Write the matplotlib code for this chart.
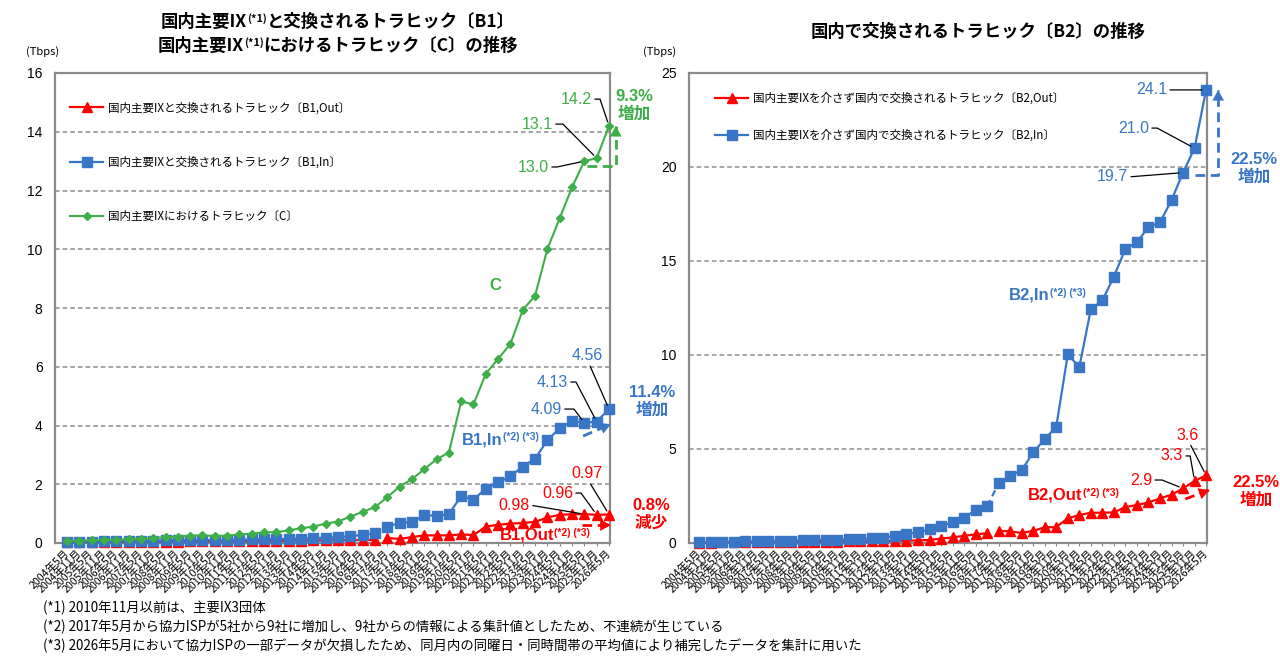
import numpy as np
import matplotlib
matplotlib.use("Agg")
import matplotlib.pyplot as plt
from matplotlib.offsetbox import TextArea, HPacker, AnnotationBbox

plt.rcParams['font.family'] = ['Noto Sans CJK JP', 'DejaVu Sans']
NUMFONT = ['Liberation Sans', 'Noto Sans CJK JP', 'DejaVu Sans']

# ---- data (Tbps), semi-annual May / Nov, 2004-05 .. 2026-05 ----
years = [y for y in range(2004, 2027) for _ in (0, 1)][:45]
months = [5, 11] * 23
periods = [f"{y}年{m}月" for y, m in zip(years, months[:45])]

b1_out = [0.03, 0.03, 0.03, 0.03, 0.03, 0.04, 0.04, 0.05, 0.05, 0.05,
          0.06, 0.06, 0.06, 0.06, 0.06, 0.07, 0.07, 0.07, 0.08, 0.08,
          0.09, 0.09, 0.10, 0.10, 0.10, 0.10,
          0.17, 0.14, 0.20, 0.26, 0.26, 0.26, 0.29, 0.27, 0.56, 0.62,
          0.66, 0.68, 0.72, 0.87, 0.96, 0.98, 0.98, 0.96, 0.97]
b1_in = [0.05, 0.05, 0.05, 0.06, 0.06, 0.07, 0.07, 0.08, 0.09, 0.10,
         0.10, 0.10, 0.10, 0.10, 0.11, 0.12, 0.13, 0.13, 0.14, 0.15,
         0.17, 0.18, 0.20, 0.23, 0.28, 0.33,
         0.56, 0.68, 0.71, 0.95, 0.93, 0.98, 1.60, 1.48, 1.85, 2.06,
         2.28, 2.60, 2.87, 3.50, 3.91, 4.15, 4.09, 4.13, 4.56]
c_ix = [0.08, 0.08, 0.09, 0.10, 0.11, 0.13, 0.15, 0.17, 0.19, 0.22,
        0.25, 0.26, 0.24, 0.25, 0.29, 0.32, 0.36, 0.37, 0.43, 0.50,
        0.56, 0.66, 0.73, 0.90, 1.06, 1.22, 1.56, 1.92, 2.17, 2.51,
        2.85, 3.08, 4.82, 4.72, 5.76, 6.27, 6.78, 7.93, 8.42, 10.01,
        11.06, 12.11, 13.0, 13.1, 14.2]

b2_out = [0.02, 0.02, 0.03, 0.03, 0.03, 0.04, 0.04, 0.05, 0.05, 0.06,
          0.06, 0.06, 0.07, 0.08, 0.09, 0.10, 0.10, 0.11, 0.12, 0.14,
          0.16, 0.23, 0.30, 0.38, 0.46, 0.52,
          0.64, 0.62, 0.53, 0.65, 0.83, 0.85, 1.31, 1.49, 1.61, 1.61,
          1.63, 1.91, 2.02, 2.16, 2.37, 2.57, 2.9, 3.3, 3.6]
b2_in = [0.04, 0.05, 0.06, 0.07, 0.08, 0.09, 0.10, 0.11, 0.13, 0.15,
         0.17, 0.16, 0.17, 0.19, 0.22, 0.25, 0.27, 0.39, 0.48, 0.56,
         0.72, 0.90, 1.10, 1.35, 1.75, 1.96,
         3.17, 3.59, 3.86, 4.83, 5.52, 6.19, 10.04, 9.35, 12.43, 12.90,
         14.17, 15.64, 16.00, 16.80, 17.05, 18.24, 19.7, 21.0, 24.1]

BREAK = periods.index("2017年5月")   # ISP panel changed 5 -> 9 companies

RED = '#FF0000'
BLUE = '#3A76C6'
GREEN = '#3DAE48'
GRIDC = '#8C8C8C'

W, H = 1280, 659
fig = plt.figure(figsize=(12.8, 6.59), dpi=100)


def fx(px):
    return px / W


def fy(py):
    return 1 - py / H


def setup(ax, ymax, step, xlo):
    x = np.arange(len(periods))
    ax.set_xlim(xlo, 44.08)
    ax.set_ylim(0, ymax)
    ax.set_yticks(np.arange(0, ymax + 0.1, step))
    ax.set_xticks(x)
    ax.set_xticklabels(periods, rotation=45, ha='right', va='center',
                       rotation_mode='anchor', fontsize=7.6)
    ax.tick_params(axis='x', length=2, pad=4, color=GRIDC)
    ax.tick_params(axis='y', length=0, pad=9, labelsize=10)
    for lab in ax.get_yticklabels():
        lab.set_family(NUMFONT)
    ax.yaxis.grid(True, color=GRIDC, linestyle=(0, (3, 2)), lw=1.1)
    ax.set_axisbelow(True)
    for s in ax.spines.values():
        s.set_color('#8a8a8a')
        s.set_linewidth(1.6)


def split_plot(ax, vals, color, marker, ms, label, bridge=False):
    x = np.arange(len(vals))
    v = np.array(vals)
    ax.plot(x[:BREAK], v[:BREAK], color=color, marker=marker, ms=ms, lw=1.6,
            label=label, clip_on=False, zorder=3)
    ax.plot(x[BREAK:], v[BREAK:], color=color, marker=marker, ms=ms, lw=1.6,
            clip_on=False, zorder=3)
    if bridge:
        ax.plot(x[BREAK - 1:BREAK + 1], v[BREAK - 1:BREAK + 1], color=color,
                lw=1.6, ls=(0, (3, 2)), zorder=3)


def sup_label(ax, x, y, parts, color, size, coords='data', align=(0, 0.5),
              weight='bold', family=NUMFONT):
    kids = [TextArea(s, textprops=dict(fontsize=size * 0.62 if sup else size,
                                       fontweight=weight, color=color,
                                       family=family))
            for s, sup in parts]
    box = HPacker(children=kids, align='top', pad=0, sep=0)
    ab = AnnotationBbox(box, (x, y), xycoords=coords, frameon=False,
                        box_alignment=align, pad=0, annotation_clip=False)
    (ax.add_artist if coords == 'data' else fig.add_artist)(ab)


def leader(ax, text, i, vals, tx, ty, color, arm=8, rel=(1, 0.5)):
    if arm:
        cs = f'arc,angleA=0,angleB=0,armA={arm},armB=0,rad=0'
    else:
        cs = 'arc3,rad=0'
    ax.annotate(text, xy=(i, vals[i]), xytext=(tx, ty), ha='right',
                va='center', color=color, fontsize=11.5, family=NUMFONT,
                annotation_clip=False,
                arrowprops=dict(arrowstyle='-', color='black', lw=0.9,
                                shrinkA=0, shrinkB=3, relpos=rel,
                                connectionstyle=cs))


def dashed_arrow(ax, xs, ys, color):
    ax.plot(xs, ys, color=color, lw=2, ls=(0, (3.5, 2)), clip_on=False,
            zorder=4)
    x0, y0 = xs[-2], ys[-2]
    x1, y1 = xs[-1], ys[-1]
    ax.annotate('', xy=(x1, y1),
                xytext=(x1 - 0.25 * (x1 - x0), y1 - 0.25 * (y1 - y0)),
                annotation_clip=False,
                arrowprops=dict(arrowstyle='-|>,head_length=0.55,head_width=0.3',
                                color=color, lw=0, mutation_scale=14,
                                shrinkA=0, shrinkB=0))


def pct(px, py, txt, color):
    fig.text(fx(px), fy(py), txt, ha='center', va='center', color=color,
             fontsize=12, fontweight='bold', family=NUMFONT, linespacing=1.15)


# ================= left panel =================
ax1 = fig.add_axes([fx(55), fy(543), fx(555), 470 / H])
setup(ax1, 16, 2, -0.97)
split_plot(ax1, b1_out, RED, '^', 6.5, '国内主要IXと交換されるトラヒック〔B1,Out〕')
split_plot(ax1, b1_in, BLUE, 's', 6.5, '国内主要IXと交換されるトラヒック〔B1,In〕')
ax1.plot(np.arange(len(c_ix)), c_ix, color=GREEN, marker='D', ms=4, lw=1.5,
         label='国内主要IXにおけるトラヒック〔C〕', clip_on=False, zorder=3)
ax1.legend(loc='upper left', bbox_to_anchor=(0.027, 0.94), frameon=False,
           fontsize=8.3, labelspacing=3.6, handlelength=2.9, handletextpad=0.4,
           borderaxespad=0, borderpad=0)

leader(ax1, '14.2', 44, c_ix, 42.62, 15.11, GREEN)
leader(ax1, '13.1', 43, c_ix, 39.45, 14.26, GREEN, arm=10)
leader(ax1, '13.0', 42, c_ix, 39.13, 12.80, GREEN, arm=8)
leader(ax1, '4.56', 44, b1_in, 43.51, 6.37, BLUE, arm=0, rel=(0.55, 0))
leader(ax1, '4.13', 43, b1_in, 40.67, 5.48, BLUE, arm=8)
leader(ax1, '4.09', 42, b1_in, 40.18, 4.56, BLUE, arm=12)
leader(ax1, '0.97', 44, b1_out, 43.51, 2.35, RED, arm=0, rel=(0.55, 0))
leader(ax1, '0.96', 43, b1_out, 41.08, 1.70, RED, arm=8)
leader(ax1, '0.98', 42, b1_out, 37.59, 1.29, RED, arm=0)

dashed_arrow(ax1, [42.2, 44.55, 44.55], [c_ix[42] - 0.15, c_ix[42] - 0.15, c_ix[44]], GREEN)
dashed_arrow(ax1, [41.9, 44.15], [3.64, 4.05], BLUE)
dashed_arrow(ax1, [41.8, 44.15], [0.61, 0.61], RED)

ax1.text(34.74, 8.78, 'C', color=GREEN, fontsize=12, fontweight='bold',
         family=NUMFONT, ha='center', va='center')
sup_label(ax1, 32.07, 3.51, [('B1,In', False), ('(*2) (*3)', True)], BLUE, 12)
sup_label(ax1, 35.15, 0.27, [('B1,Out', False), ('(*2) (*3)', True)], RED, 12)

pct(634, 105, '9.3%\n増加', GREEN)
pct(652, 401, '11.4%\n増加', BLUE)
pct(651, 514, '0.8%\n減少', RED)

fig.text(fx(43), fy(52), '(Tbps)', ha='center', va='center', fontsize=8)
sup_label(fig, fx(338), fy(22),
          [('国内主要IX', False), ('(*1)', True), ('と交換されるトラヒック〔B1〕', False)],
          'black', 12.5, coords='figure fraction', align=(0.5, 0.5),
          family=['Noto Sans CJK JP', 'DejaVu Sans'])
sup_label(fig, fx(338), fy(46),
          [('国内主要IX', False), ('(*1)', True), ('におけるトラヒック〔C〕の推移', False)],
          'black', 12.5, coords='figure fraction', align=(0.5, 0.5),
          family=['Noto Sans CJK JP', 'DejaVu Sans'])

# ================= right panel =================
ax2 = fig.add_axes([fx(689), fy(543), fx(518), 470 / H])
setup(ax2, 25, 5, -0.87)
split_plot(ax2, b2_out, RED, '^', 6.5, '国内主要IXを介さず国内で交換されるトラヒック〔B2,Out〕')
split_plot(ax2, b2_in, BLUE, 's', 6.5, '国内主要IXを介さず国内で交換されるトラヒック〔B2,In〕',
           bridge=True)
ax2.legend(loc='upper left', bbox_to_anchor=(0.05, 0.96), frameon=False,
           fontsize=8.3, labelspacing=2.1, handlelength=2.9, handletextpad=0.4,
           borderaxespad=0, borderpad=0)

leader(ax2, '24.1', 44, b2_in, 40.63, 24.10, BLUE, arm=0)
leader(ax2, '21.0', 43, b2_in, 39.06, 22.07, BLUE, arm=8)
leader(ax2, '19.7', 42, b2_in, 37.24, 19.47, BLUE, arm=0)
leader(ax2, '3.6', 44, b2_out, 43.32, 5.74, RED, arm=0, rel=(0.6, 0))
leader(ax2, '3.3', 43, b2_out, 42.01, 4.63, RED, arm=7)
leader(ax2, '2.9', 42, b2_out, 39.32, 3.35, RED, arm=10)

dashed_arrow(ax2, [43.0, 45.05, 45.05], [b2_in[42] - 0.1, b2_in[42] - 0.1, b2_in[44]], BLUE)
dashed_arrow(ax2, [42.2, 44.3], [2.34, 2.82], RED)

sup_label(ax2, 26.9, 13.19, [('B2,In', False), ('(*2) (*3)', True)], BLUE, 12)
sup_label(ax2, 28.56, 2.55, [('B2,Out', False), ('(*2) (*3)', True)], RED, 12)

pct(1254, 168, '22.5%\n増加', BLUE)
pct(1256, 491, '22.5%\n増加', RED)

fig.text(fx(660), fy(52), '(Tbps)', ha='center', va='center', fontsize=8)
fig.text(fx(978), fy(32), '国内で交換されるトラヒック〔B2〕の推移', ha='center',
         va='center', fontsize=12.5, fontweight='bold')

# ================= footnotes =================
notes = [
    '(*1) 2010年11月以前は、主要IX3団体',
    '(*2) 2017年5月から協力ISPが5社から9社に増加し、9社からの情報による集計値としたため、不連続が生じている',
    '(*3) 2026年5月において協力ISPの一部データが欠損したため、同月内の同曜日・同時間帯の平均値により補完したデータを集計に用いた',
]
for k, n in enumerate(notes):
    fig.text(fx(43), fy(608 + 19 * k), n, ha='left', va='center', fontsize=9.6)

fig.savefig('out.png', dpi=100)
